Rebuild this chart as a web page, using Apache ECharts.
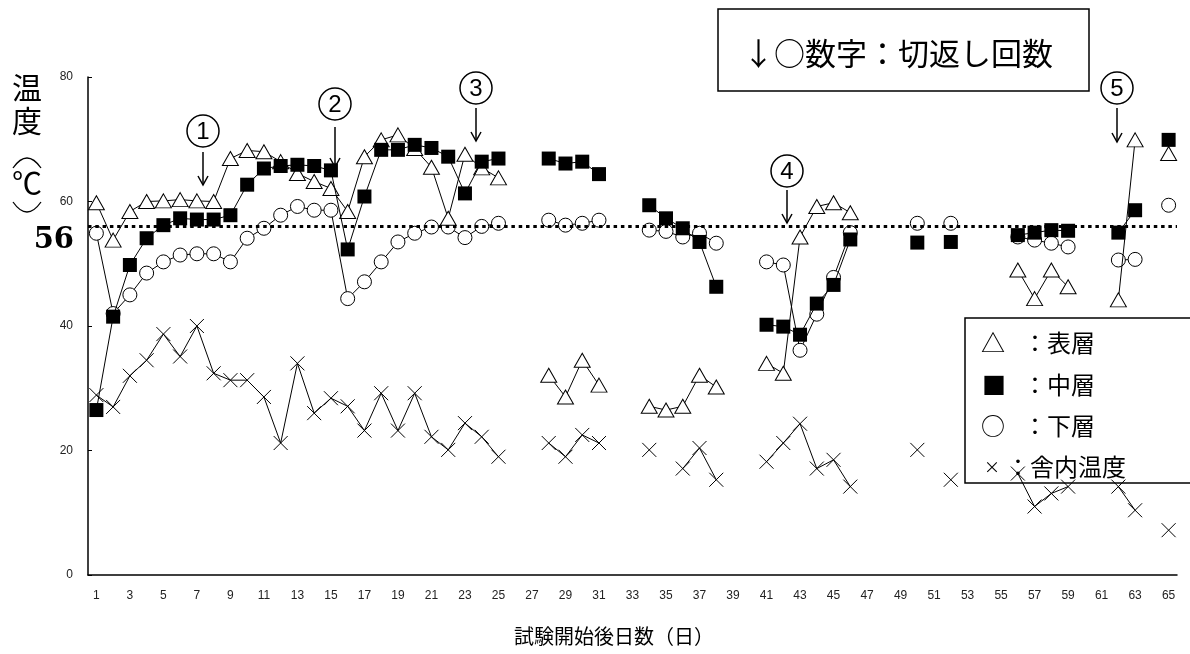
<!DOCTYPE html>
<html>
<head>
<meta charset="utf-8">
<script src="https://cdn.jsdelivr.net/npm/echarts@6/dist/echarts.min.js"></script>
<style>
html,body{margin:0;padding:0;background:#fff;}
#chart{width:1190px;height:654px;}
</style>
</head>
<body>
<div id="chart"></div>
<script>
// 試験開始後日数 1..65
const days = Array.from({length: 65}, (_, i) => String(i + 1));
const yTicks = [0, 20, 40, 60, 80];
const threshold = 56;

// 表層 (△)
const surface = [
  59.8, 53.8, 58.4, 60.0, 60.1, 60.3, 60.1, 60.0, 66.9, 68.2,
  68.0, 66.4, 64.5, 63.2, 62.1, 58.4, 67.2, 69.9, 70.7, 68.5,
  65.5, 57.3, 67.6, 65.4, 63.8, null, null, 32.1, 28.6, 34.5,
  30.5, null, null, 27.1, 26.5, 27.1, 32.1, 30.2, null, null,
  34.0, 32.4, 54.3, 59.2, 59.8, 58.2, null, null, null, null,
  null, null, null, null, null, 49.0, 44.4, 49.0, 46.3, null,
  null, 44.2, 69.9, null, 67.7
];
// 中層 (■)
const middle = [
  26.5, 41.5, 49.8, 54.1, 56.2, 57.3, 57.1, 57.1, 57.8, 62.7,
  65.3, 65.7, 65.9, 65.7, 65.0, 52.3, 60.8, 68.3, 68.3, 69.1,
  68.6, 67.2, 61.3, 66.4, 66.9, null, null, 66.9, 66.1, 66.4,
  64.4, null, null, 59.4, 57.3, 55.7, 53.5, 46.3, null, null,
  40.2, 39.9, 38.6, 43.6, 46.6, 53.9, null, null, null, 53.4,
  null, 53.5, null, null, null, 54.6, 55.0, 55.4, 55.3, null,
  null, 55.0, 58.6, null, 69.9
];
// 下層 (○)
const bottom = [
  54.9, 42.0, 45.0, 48.5, 50.3, 51.4, 51.6, 51.6, 50.3, 54.1,
  55.7, 57.8, 59.2, 58.6, 58.6, 44.4, 47.1, 50.3, 53.5, 54.9,
  55.9, 55.9, 54.2, 56.0, 56.5, null, null, 57.0, 56.2, 56.5,
  57.0, null, null, 55.4, 55.2, 54.3, 54.9, 53.3, null, null,
  50.3, 49.8, 36.1, 41.9, 47.8, 55.0, null, null, null, 56.5,
  null, 56.5, null, null, null, 54.3, 53.8, 53.3, 52.7, null,
  null, 50.6, 50.7, null, 59.4
];
// 舎内温度 (×)
const room = [
  28.9, 27.0, 32.0, 34.5, 38.7, 35.1, 40.0, 32.4, 31.3, 31.3,
  28.6, 21.2, 34.0, 26.0, 28.4, 27.1, 23.2, 29.2, 23.2, 29.2,
  22.2, 20.1, 24.4, 22.2, 19.0, null, null, 21.2, 19.0, 22.5,
  21.2, null, null, 20.1, null, 17.1, 20.4, 15.3, null, null,
  18.2, 21.2, 24.3, 17.1, 18.5, 14.2, null, null, null, 20.1,
  null, 15.3, null, null, null, 16.3, 11.0, 13.1, 14.2, null,
  null, 14.2, 10.4, null, 7.2
];

// 切返し (turning) markers: label, pixel position of circle centre, arrow span
const turnings = [
  {label: '1', x: 203, cy: 131, a0: 152, a1: 185},
  {label: '2', x: 335, cy: 104, a0: 127, a1: 167},
  {label: '3', x: 476, cy: 88,  a0: 108, a1: 141},
  {label: '4', x: 787, cy: 171, a0: 190, a1: 223},
  {label: '5', x: 1117, cy: 88, a0: 108, a1: 142}
];

const JP = "'Noto Sans CJK JP', 'Noto Sans CJK SC', sans-serif";
const lineStyle = {color: '#000', width: 1};

function turningGraphics() {
  const g = [];
  turnings.forEach(t => {
    g.push({type: 'circle', shape: {cx: t.x, cy: t.cy, r: 16},
      style: {fill: '#fff', stroke: '#000', lineWidth: 1.5}, z: 100});
    g.push({type: 'text', x: t.x, y: t.cy + 1, z: 101,
      style: {text: t.label, fontSize: 24, fontFamily: 'Liberation Sans, sans-serif',
        fill: '#000', textAlign: 'center', textVerticalAlign: 'middle'}});
    g.push({type: 'line', shape: {x1: t.x, y1: t.a0, x2: t.x, y2: t.a1},
      style: {stroke: '#000', lineWidth: 1.5}, z: 100});
    g.push({type: 'polyline', shape: {points: [[t.x - 5, t.a1 - 9], [t.x, t.a1], [t.x + 5, t.a1 - 9]]},
      style: {stroke: '#000', lineWidth: 1.5, fill: null}, z: 100});
  });
  return g;
}

// vertical axis title 温度（℃）; brackets drawn as shallow curves for vertical writing
const yTitle = [
  {type: 'text', x: 27, y: 88, z: 50,
    style: {text: '温', fontSize: 30, fontFamily: JP, fill: '#000', textAlign: 'center', textVerticalAlign: 'middle'}},
  {type: 'text', x: 27, y: 121, z: 50,
    style: {text: '度', fontSize: 30, fontFamily: JP, fill: '#000', textAlign: 'center', textVerticalAlign: 'middle'}},
  {type: 'bezierCurve', z: 50,
    shape: {x1: 13, y1: 168, x2: 41, y2: 168, cpx1: 27, cpy1: 148},
    style: {stroke: '#000', lineWidth: 1.3, fill: null}},
  {type: 'text', x: 27, y: 183, z: 50,
    style: {text: '℃', fontSize: 30, fontFamily: JP, fill: '#000', textAlign: 'center', textVerticalAlign: 'middle'}},
  {type: 'bezierCurve', z: 50,
    shape: {x1: 13, y1: 202, x2: 41, y2: 202, cpx1: 27, cpy1: 222},
    style: {stroke: '#000', lineWidth: 1.3, fill: null}}
];

const legendRows = [
  {sym: '△', text: '：表層', y: 343, sx: 993, tx: 1023, ss: 24},
  {sym: '■', text: '：中層', y: 385, sx: 994, tx: 1023, ss: 24},
  {sym: '○', text: '：下層', y: 426, sx: 993, tx: 1023, ss: 24},
  {sym: '×', text: '：舎内温度', y: 467, sx: 992, tx: 1006, ss: 16}
];
// legend sits underneath the plotted series
const legendGraphics = [
  {type: 'rect', shape: {x: 965, y: 318, width: 260, height: 165},
    style: {fill: '#fff', stroke: '#000', lineWidth: 1.5}, z: 0}
];
legendRows.forEach(r => {
  legendGraphics.push({type: 'text', x: r.sx, y: r.y, z: 1,
    style: {text: r.sym, fontSize: r.ss, fontFamily: JP, fill: '#000', textAlign: 'center', textVerticalAlign: 'middle'}});
  legendGraphics.push({type: 'text', x: r.tx, y: r.y, z: 1,
    style: {text: r.text, fontSize: 24, fontFamily: JP, fill: '#000', textAlign: 'left', textVerticalAlign: 'middle'}});
});

const chart = echarts.init(document.getElementById('chart'), null, {renderer: 'canvas'});
chart.setOption({
  animation: false,
  backgroundColor: '#fff',
  grid: {left: 88, right: 13, top: 77, bottom: 79, containLabel: false},
  xAxis: {
    type: 'category',
    data: days,
    boundaryGap: true,
    axisLine: {lineStyle: {color: '#000', width: 1.5}},
    axisTick: {inside: true, length: 4, interval: 0, lineStyle: {color: '#000'}},
    axisLabel: {interval: 1, margin: 15, fontSize: 12, color: '#222', fontFamily: 'Liberation Sans, sans-serif'},
    splitLine: {show: false}
  },
  yAxis: {
    type: 'value',
    min: yTicks[0], max: yTicks[yTicks.length - 1], interval: 20,
    axisLine: {show: true, lineStyle: {color: '#000', width: 1.5}},
    axisTick: {show: true, inside: true, length: 4, lineStyle: {color: '#000'}},
    axisLabel: {margin: 15, fontSize: 12, color: '#222', fontFamily: 'Liberation Sans, sans-serif'},
    splitLine: {show: false}
  },
  series: [
    {
      name: '下層', type: 'line', data: bottom, connectNulls: false, showAllSymbol: true,
      symbol: 'circle', symbolSize: 14,
      itemStyle: {color: '#fff', borderColor: '#000', borderWidth: 1},
      lineStyle: lineStyle, z: 3,
      markLine: {
        silent: true, symbol: 'none', label: {show: false},
        lineStyle: {color: '#000', type: [3.5, 3.8], width: 3},
        data: [{yAxis: threshold}]
      }
    },
    {
      name: '表層', type: 'line', data: surface, connectNulls: false, showAllSymbol: true,
      symbol: 'triangle', symbolSize: [16, 14],
      itemStyle: {color: '#fff', borderColor: '#000', borderWidth: 1},
      lineStyle: lineStyle, z: 4
    },
    {
      name: '中層', type: 'line', data: middle, connectNulls: false, showAllSymbol: true,
      symbol: 'rect', symbolSize: 14,
      itemStyle: {color: '#000', borderColor: '#000', borderWidth: 0},
      lineStyle: lineStyle, z: 5
    },
    {
      name: '舎内温度', type: 'line', data: room, connectNulls: false, showAllSymbol: true,
      symbol: 'path://M0,0L10,10M10,0L0,10', symbolSize: 14,
      itemStyle: {color: '#000', borderColor: '#000', borderWidth: 1},
      lineStyle: lineStyle, z: 6
    }
  ],
  graphic: [
    {type: 'text', x: 74, y: 240, z: 50,
      style: {text: String(threshold), fontSize: 29, fontWeight: 'bold', fontFamily: "'DejaVu Serif', serif",
        fill: '#000', textAlign: 'right', textVerticalAlign: 'middle'}},
    {type: 'text', x: 614, y: 636, z: 50,
      style: {text: '試験開始後日数（日）', fontSize: 20, fontFamily: JP, fill: '#000',
        textAlign: 'center', textVerticalAlign: 'middle'}},
    {type: 'rect', shape: {x: 718, y: 9, width: 371, height: 82},
      style: {fill: '#fff', stroke: '#000', lineWidth: 1.5}, z: 50},
    {type: 'text', x: 898, y: 53, z: 51,
      style: {text: '↓○数字：切返し回数', fontSize: 31, fontFamily: JP, fill: '#000',
        textAlign: 'center', textVerticalAlign: 'middle'}}
  ].concat(yTitle, turningGraphics(), legendGraphics)
});
</script>
</body>
</html>
